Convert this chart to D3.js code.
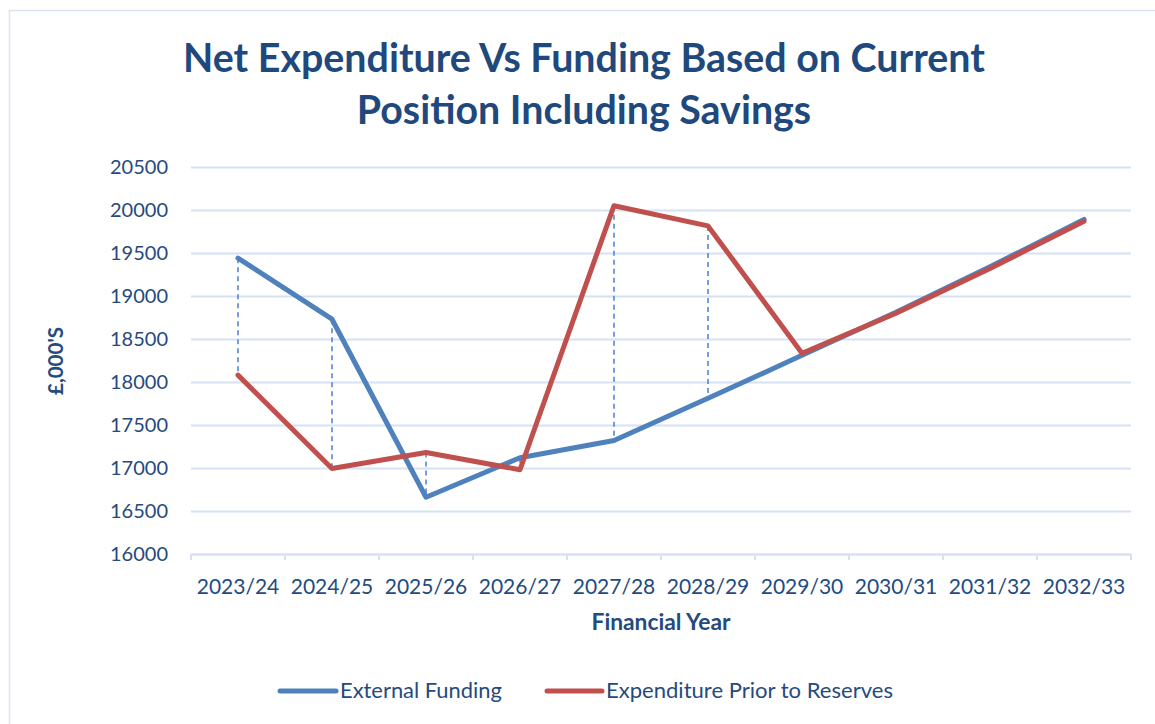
<!DOCTYPE html>
<html>
<head>
<meta charset="utf-8">
<script src="https://cdn.jsdelivr.net/npm/d3@7"></script>
<style>
  html, body { margin: 0; padding: 0; background: #fff; }
  svg { display: block; font-family: Lato, "Open Sans", sans-serif; }
</style>
</head>
<body>
<div id="chart"></div>
<script>
// Net expenditure vs funding line chart
const years = ['2023/24', '2024/25', '2025/26', '2026/27', '2027/28', '2028/29', '2029/30', '2030/31', '2031/32', '2032/33'];
const externalFunding = [19440, 18730, 16660, 17120, 17320, 17810, 18310, 18810, 19340, 19890];
const expenditure = [18080, 16995, 17180, 16980, 20050, 19815, 18335, 18800, 19320, 19870];
const yTicks = [16000, 16500, 17000, 17500, 18000, 18500, 19000, 19500, 20000, 20500];

const W = 1155, H = 724;
const margin = {top: 167, right: 25, bottom: 170, left: 191};
const width = 940;
const height = 387;

const textColor = '#254A7E';
const gridColor = '#D6E2F3';
const blue = '#4F81BD';
const red = '#C0504D';

const root = d3.select('#chart').append('svg')
  .attr('width', W)
  .attr('height', H);

// outer chart frame (only left/top edges visible in the crop)
root.append('rect')
  .attr('x', 9.5).attr('y', 10.5)
  .attr('width', W + 20).attr('height', H + 20)
  .attr('fill', 'none')
  .attr('stroke', '#D9E4F2')
  .attr('stroke-width', 1.5);

const svg = root.append('g')
  .attr('transform', `translate(${margin.left},${margin.top})`);

const x = d3.scaleBand().domain(years).range([0, width]);
const y = d3.scaleLinear().domain([16000, 20500]).range([height, 0]);

// fit a text element to a target width by scaling its font size
function fitWidth(sel, target) {
  const node = sel.node();
  const fs = parseFloat(sel.attr('font-size'));
  const w = node.getComputedTextLength();
  sel.attr('font-size', (fs * target / w).toFixed(2));
}

// grid lines
svg.append('g')
  .attr('class', 'grid')
  .call(d3.axisLeft(y).tickValues(yTicks).tickSize(-width).tickFormat(''))
  .call(g => g.select('.domain').remove())
  .call(g => g.selectAll('line').attr('stroke', gridColor).attr('stroke-width', 2));

// x axis
svg.append('g')
  .attr('class', 'x axis')
  .attr('transform', `translate(0,${height})`)
  .call(d3.axisBottom(x).tickSize(0).tickPadding(25))
  .call(g => g.select('.domain').attr('stroke', gridColor).attr('stroke-width', 2))
  .call(g => g.selectAll('text')
    .attr('fill', textColor)
    .attr('font-size', 21)
    .attr('font-family', 'Lato, sans-serif'));

// x category boundary tick marks
svg.append('g')
  .selectAll('line')
  .data(d3.range(years.length + 1))
  .join('line')
  .attr('x1', i => i * x.step()).attr('x2', i => i * x.step())
  .attr('y1', height).attr('y2', height + 6)
  .attr('stroke', gridColor)
  .attr('stroke-width', 2);

// y axis labels
svg.append('g')
  .attr('class', 'y axis')
  .call(d3.axisLeft(y).tickValues(yTicks).tickSize(0).tickPadding(23).tickFormat(d3.format('d')))
  .call(g => g.select('.domain').remove())
  .call(g => g.selectAll('text')
    .attr('fill', textColor)
    .attr('font-size', 20)
    .attr('font-family', 'Lato, sans-serif'));

const cx = d => x(d) + x.bandwidth() / 2;

// high-low dashed lines
svg.append('g')
  .selectAll('line')
  .data(years)
  .join('line')
  .attr('x1', d => cx(d)).attr('x2', d => cx(d))
  .attr('y1', (d, i) => y(Math.max(externalFunding[i], expenditure[i])))
  .attr('y2', (d, i) => y(Math.min(externalFunding[i], expenditure[i])))
  .attr('stroke', '#4A7FD3')
  .attr('stroke-width', 1.5)
  .attr('stroke-dasharray', '5,4');

const line = d3.line()
  .x(d => cx(d.year))
  .y(d => y(d.value));

const series = [
  {label: 'External Funding', color: blue, values: externalFunding},
  {label: 'Expenditure Prior to Reserves', color: red, values: expenditure}
];

series.forEach(s => {
  svg.append('path')
    .datum(years.map((yr, i) => ({year: yr, value: s.values[i]})))
    .attr('fill', 'none')
    .attr('stroke', s.color)
    .attr('stroke-width', 5)
    .attr('stroke-linejoin', 'round')
    .attr('stroke-linecap', 'round')
    .attr('d', line);
});

// title
const t1 = root.append('text')
  .attr('x', 584).attr('y', 72)
  .attr('text-anchor', 'middle')
  .attr('font-size', 36)
  .attr('font-weight', 700)
  .attr('fill', '#1F497D')
  .text('Net Expenditure Vs Funding Based on Current');
fitWidth(t1, 802);
const t2 = root.append('text')
  .attr('x', 584).attr('y', 124)
  .attr('text-anchor', 'middle')
  .attr('font-size', t1.attr('font-size'))
  .attr('font-weight', 700)
  .attr('fill', '#1F497D')
  .text('Position Including Savings');

// axis titles
const xt = root.append('text')
  .attr('x', 661).attr('y', 630)
  .attr('text-anchor', 'middle')
  .attr('font-size', 19)
  .attr('font-weight', 700)
  .attr('fill', textColor)
  .text('Financial Year');
fitWidth(xt, 139);

const yt = root.append('text')
  .attr('transform', 'translate(63,361) rotate(-90)')
  .attr('text-anchor', 'middle')
  .attr('font-size', 17)
  .attr('font-weight', 700)
  .attr('fill', textColor)
  .text("£,000'S");
fitWidth(yt, 68);

// legend
const legendItems = [
  {x1: 280, x2: 336, tx: 340, w: 162, s: series[0]},
  {x1: 547, x2: 602, tx: 606, w: 287, s: series[1]}
];
const legend = root.append('g').attr('class', 'legend');
legendItems.forEach(it => {
  legend.append('line')
    .attr('x1', it.x1).attr('x2', it.x2)
    .attr('y1', 691).attr('y2', 691)
    .attr('stroke', it.s.color)
    .attr('stroke-width', 5)
    .attr('stroke-linecap', 'round');
  const lt = legend.append('text')
    .attr('x', it.tx).attr('y', 698)
    .attr('font-size', 20)
    .attr('fill', textColor)
    .text(it.s.label);
  fitWidth(lt, it.w);
});
</script>
</body>
</html>
